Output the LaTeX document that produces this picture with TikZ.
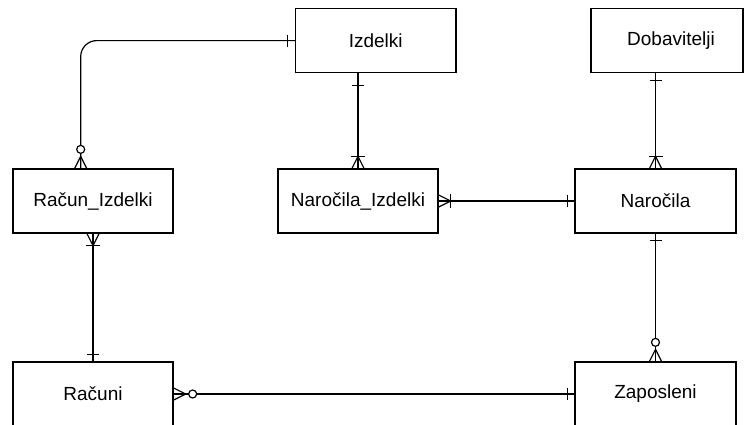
\documentclass[tikz,border=0pt]{standalone}
\usepackage{fontspec}
\setmainfont{Liberation Sans}
\begin{document}
\begin{tikzpicture}[x=1pt,y=-1pt,line width=1.2pt,
  ent/.style={draw, minimum height=64pt, inner sep=0pt, line width=1.3pt,
    font=\fontsize{19}{22}\selectfont},
  conn/.style={line width=1.2pt},
  erone/.pic={\draw (7,-6) -- (7,6);},
  eronefar/.pic={\draw (12,-6) -- (12,6);},
  eronemany/.pic={\draw (12,-7) -- (12,7); \draw (0,-6) -- (12,0) -- (0,6);},
  erzeromany/.pic={\draw (0,-6) -- (12,0) -- (0,6); \draw[fill=white] (19,0) circle (4pt);}]
\useasboundingbox (0,0) rectangle (744,424);
\clip (0,0) rectangle (744,424);
% entities
\node[ent, minimum width=160.5pt] (izd) at (375.7,40.6) {Izdelki};
\node[ent, minimum width=152pt] (dob) at (667,40.6) {\hspace*{8pt}Dobavitelji};
\node[ent, minimum width=160pt] (ri) at (93,201) {Račun\_Izdelki};
\node[ent, minimum width=160pt] (ni) at (358,201) {Naročila\_Izdelki};
\node[ent, minimum width=161pt] (nar) at (655.5,201) {Naročila};
\node[ent, minimum width=160pt] (ra) at (93,394) {Računi};
\node[ent, minimum width=161pt] (zap) at (655.5,394) {Zaposleni};
\coordinate (riTop) at ([xshift=-12.3pt]ri.north);
\coordinate (izdBot) at (ni.north |- izd.south);
\coordinate (dobBot) at (nar.north |- dob.south);
% connectors
\draw[conn, rounded corners=16pt] (izd.west) -| (riTop);
\draw[conn] (izdBot) -- (ni.north);
\draw[conn] (ni.east) -- (nar.west);
\draw[conn] (dobBot) -- (nar.north);
\draw[conn] (nar.south) -- (zap.north);
\draw[conn] (ri.south) -- (ra.north);
\draw[conn] (ra.east) -- (zap.west);
% markers
\pic[rotate=180] at (izd.west) {erone};
\pic[rotate=90] at (riTop) {erzeromany};
\pic[rotate=-90] at (izdBot) {eronefar};
\pic[rotate=90] at (ni.north) {eronemany};
\pic[rotate=0] at (ni.east) {eronemany};
\pic[rotate=180] at (nar.west) {erone};
\pic[rotate=-90] at (dobBot) {erone};
\pic[rotate=90] at (nar.north) {eronemany};
\pic[rotate=-90] at (nar.south) {erone};
\pic[rotate=90] at (zap.north) {erzeromany};
\pic[rotate=-90] at (ri.south) {eronemany};
\pic[rotate=90] at (ra.north) {erone};
\pic[rotate=0] at (ra.east) {erzeromany};
\pic[rotate=180] at (zap.west) {erone};
\end{tikzpicture}
\end{document}
